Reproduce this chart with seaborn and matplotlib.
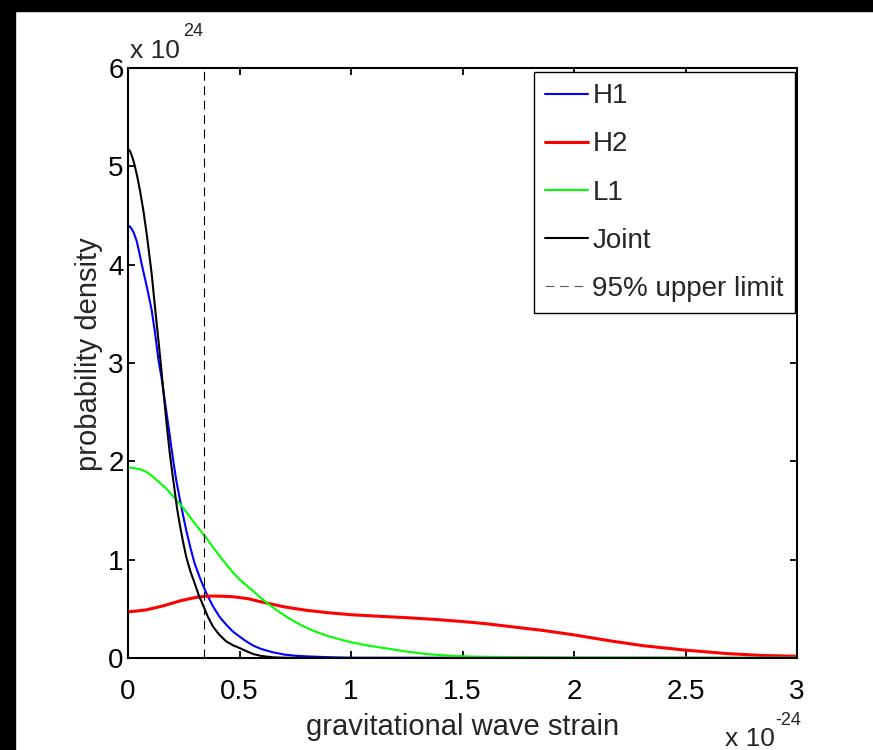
import matplotlib
matplotlib.use("Agg")
import matplotlib.pyplot as plt
import seaborn as sns
from matplotlib.patches import Rectangle

# strain in units of 1e-24, density in units of 1e24
joint_x = [0, 0.01, 0.02, 0.031, 0.042, 0.054, 0.069, 0.084, 0.095, 0.106, 0.121, 0.136,
           0.151, 0.161, 0.175, 0.1875, 0.2, 0.21, 0.22, 0.232, 0.247, 0.262, 0.28, 0.299,
           0.317, 0.336, 0.358, 0.381, 0.41, 0.44, 0.47, 0.502, 0.53, 0.562, 0.6, 0.65,
           0.7, 0.8, 1.0, 3.0]
joint_y = [5.18, 5.15, 5.09, 5.0, 4.89, 4.75, 4.55, 4.31, 4.11, 3.91, 3.57, 3.24,
           2.90, 2.66, 2.34, 2.08, 1.86, 1.69, 1.52, 1.36, 1.18, 1.02, 0.88, 0.76,
           0.64, 0.54, 0.42, 0.32, 0.235, 0.17, 0.13, 0.10, 0.07, 0.04, 0.02, 0.007,
           0.003, 0.001, 0.0, 0.0]

h1_x = [0, 0.012, 0.025, 0.039, 0.05, 0.061, 0.072, 0.084, 0.095, 0.106, 0.121, 0.136,
        0.151, 0.166, 0.185, 0.202, 0.217, 0.232, 0.247, 0.262, 0.28, 0.299, 0.325, 0.351,
        0.38, 0.41, 0.44, 0.47, 0.502, 0.53, 0.562, 0.6, 0.65, 0.7, 0.75, 0.8, 0.9, 1.0, 3.0]
h1_y = [4.40, 4.38, 4.33, 4.24, 4.13, 4.01, 3.90, 3.78, 3.66, 3.54, 3.31, 3.04,
        2.84, 2.60, 2.30, 2.02, 1.80, 1.62, 1.45, 1.29, 1.12, 0.96, 0.80, 0.66,
        0.53, 0.42, 0.34, 0.27, 0.215, 0.17, 0.125, 0.09, 0.058, 0.035, 0.023, 0.017, 0.008, 0.003, 0.0]

l1_x = [0, 0.03, 0.054, 0.085, 0.113, 0.143, 0.173, 0.2, 0.232, 0.26, 0.292, 0.32, 0.351,
        0.38, 0.41, 0.44, 0.47, 0.5, 0.53, 0.562, 0.59, 0.62, 0.67, 0.726, 0.78, 0.83, 0.9,
        1.0, 1.08, 1.175, 1.25, 1.34, 1.45, 1.55, 1.75, 2.0, 3.0]
l1_y = [1.94, 1.93, 1.92, 1.89, 1.84, 1.78, 1.72, 1.65, 1.57, 1.49, 1.39, 1.31, 1.22,
        1.13, 1.04, 0.955, 0.87, 0.80, 0.74, 0.68, 0.62, 0.566, 0.48, 0.397, 0.33, 0.278, 0.22,
        0.16, 0.125, 0.092, 0.065, 0.04, 0.022, 0.014, 0.008, 0.005, 0.003]

h2_x = [0, 0.04, 0.083, 0.12, 0.158, 0.195, 0.232, 0.27, 0.307, 0.345, 0.381, 0.425, 0.47,
        0.51, 0.545, 0.58, 0.62, 0.7, 0.8, 0.9, 1.0, 1.12, 1.25, 1.38, 1.504, 1.6, 1.713,
        1.862, 2.0, 2.16, 2.31, 2.5, 2.685, 2.85, 3.0]
h2_y = [0.47, 0.478, 0.49, 0.51, 0.53, 0.555, 0.58, 0.60, 0.617, 0.627, 0.63, 0.628, 0.623,
        0.612, 0.60, 0.58, 0.56, 0.52, 0.485, 0.46, 0.44, 0.425, 0.41, 0.392, 0.37, 0.35, 0.32,
        0.28, 0.235, 0.175, 0.125, 0.08, 0.045, 0.025, 0.018]

upper_limit = 0.341

x_ticks = [0, 0.5, 1, 1.5, 2, 2.5, 3]
x_tick_labels = ["0", "0.5", "1", "1.5", "2", "2.5", "3"]
y_ticks = [0, 1, 2, 3, 4, 5, 6]

sns.set_style("ticks")
plt.rcParams['font.family'] = ['Liberation Sans', 'DejaVu Sans']

fig = plt.figure(figsize=(8.73, 7.5), dpi=100)
ax = fig.add_axes([128 / 873, 1 - 658 / 750, 669 / 873, 590 / 750])

sns.lineplot(x=h1_x, y=h1_y, ax=ax, color=(0, 0, 1), lw=1.5, label="H1", sort=False, estimator=None)
sns.lineplot(x=h2_x, y=h2_y, ax=ax, color=(1, 0, 0), lw=2.2, label="H2", sort=False, estimator=None)
sns.lineplot(x=l1_x, y=l1_y, ax=ax, color=(0, 1, 0), lw=1.5, label="L1", sort=False, estimator=None)
sns.lineplot(x=joint_x, y=joint_y, ax=ax, color="black", lw=1.5, label="Joint", sort=False, estimator=None)
ax.axvline(upper_limit, color="black", lw=0.8, ls=(0, (8, 5)), label="95% upper limit")

ax.set_xlim(0, 3)
ax.set_ylim(0, 6)
ax.set_xticks(x_ticks)
ax.set_xticklabels(x_tick_labels)
ax.set_yticks(y_ticks)
ax.tick_params(direction="in", length=5, width=1.3, top=True, right=True,
               labelsize=20, colors="black")
ax.tick_params(axis="x", pad=15)
ax.tick_params(axis="y", pad=3)
for s in ax.spines.values():
    s.set_visible(True)
    s.set_linewidth(1.5)
    s.set_color("black")

ax.set_xlabel("gravitational wave strain", fontsize=21, labelpad=6)
ax.set_ylabel("probability density", fontsize=21)
ax.yaxis.set_label_coords(-0.037, 0.515)

leg = ax.legend(loc="upper right", bbox_to_anchor=(0.997, 0.993), borderaxespad=0,
                fontsize=20, handlelength=1.55, handletextpad=0.15, labelspacing=0.8,
                fancybox=False, framealpha=1, edgecolor="black", borderpad=0.4)
leg.get_frame().set_linewidth(1.0)
leg.get_lines()[-1].set_color("0.35")

# MATLAB style exponent labels
fig.text(130 / 873, 1 - 58 / 750, "x 10", fontsize=19, va="baseline")
fig.text(183 / 873, 1 - 36 / 750, "24", fontsize=13, va="baseline")
fig.text(725 / 873, 1 - 746 / 750, "x 10", fontsize=19, va="baseline")
fig.text(775 / 873, 1 - 725 / 750, "-24", fontsize=13, va="baseline")

# black strips along the top and left edges
fig.patches.append(Rectangle((0, 1 - 11 / 750), 1, 11 / 750, transform=fig.transFigure,
                             color="black", zorder=10))
fig.patches.append(Rectangle((0, 0), 15 / 873, 1, transform=fig.transFigure,
                             color="black", zorder=10))

fig.savefig("out.png", dpi=100)
